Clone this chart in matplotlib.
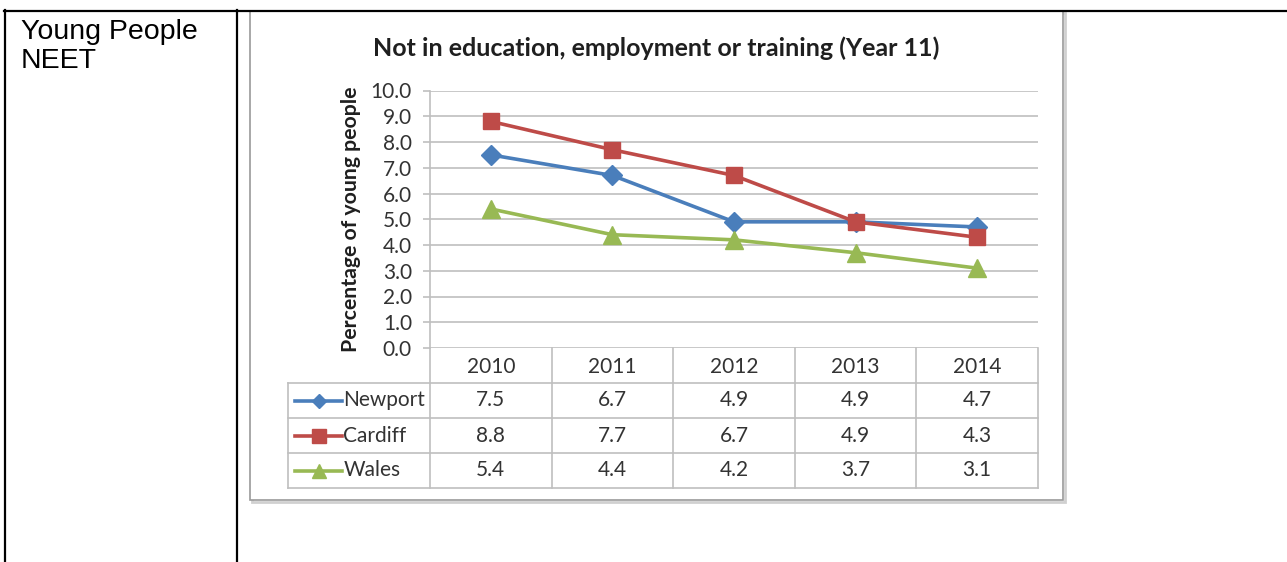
import matplotlib
matplotlib.use("Agg")
import matplotlib.pyplot as plt
from matplotlib.lines import Line2D
from matplotlib.patches import Rectangle

# ---------------- data ----------------
years = ["2010", "2011", "2012", "2013", "2014"]
series_names = ["Newport", "Cardiff", "Wales"]
newport = [7.5, 6.7, 4.9, 4.9, 4.7]
cardiff = [8.8, 7.7, 6.7, 4.9, 4.3]
wales = [5.4, 4.4, 4.2, 3.7, 3.1]
y_ticks = [0, 1, 2, 3, 4, 5, 6, 7, 8, 9, 10]
title = "Not in education, employment or training (Year 11)"
y_label = "Percentage of young people"
row_label = "Young People\nNEET"

colors = ["#4A7EBB", "#BE4B48", "#98B954"]
markers = ["D", "s", "^"]
msizes = [10, 11, 13]
leg_msizes = [7.5, 9.5, 10]
series = [newport, cardiff, wales]

W, H = 1287, 562
fig = plt.figure(figsize=(W / 100, H / 100), dpi=100)
fig.patch.set_facecolor("white")


def fx(px):
    return px / W


def fy(py):
    return 1 - py / H


CHART_FONT = ["Lato", "DejaVu Sans"]
GRID = "#BFBFBF"
TXT = "#333333"
FS = 15

# ---------- document table lines ----------
for (x0, y0, x1, y1) in [(4, 10.5, 1287, 10.5), (5, 10, 5, 562), (237, 10, 237, 562)]:
    fig.add_artist(Line2D([fx(x0), fx(x1)], [fy(y0), fy(y1)], color="black",
                          lw=1.6, transform=fig.transFigure, zorder=-3))
fig.text(fx(21), fy(19), row_label, ha="left", va="top", fontsize=20.5,
         family=["Liberation Sans", "DejaVu Sans"], color="black", linespacing=1.16)

# ---------- chart frame ----------
fig.add_artist(Rectangle((fx(252), fy(502)), fx(1065) - fx(252), fy(13) - fy(502),
                         transform=fig.transFigure, facecolor="none",
                         edgecolor="#D0D0D0", lw=2.0, zorder=-6))
fig.add_artist(Rectangle((fx(250), fy(500)), fx(1063) - fx(250), fy(11) - fy(500),
                         transform=fig.transFigure, facecolor="white",
                         edgecolor="#9A9A9A", lw=1.2, zorder=-5))

fig.text(fx(656), fy(48), title, ha="center", va="center", fontsize=18,
         fontweight="bold", family=CHART_FONT, color="#1F1F1F")
fig.text(fx(351), fy(219), y_label, ha="center", va="center", rotation=90,
         fontsize=15.3, fontweight="bold", family=CHART_FONT, color="#1F1F1F")

# ---------- main plot axes ----------
L, R, T, B = 430, 1038, 90.5, 348
ax = fig.add_axes([fx(L), fy(B), fx(R) - fx(L), fy(T) - fy(B)])
ax.set_facecolor("none")
ax.set_xlim(-0.5, len(years) - 0.5)
ax.set_ylim(y_ticks[0], y_ticks[-1])
ax.set_yticks(y_ticks)
ax.set_yticklabels([f"{v:.1f}" for v in y_ticks], family=CHART_FONT, fontsize=FS, color=TXT)
ax.set_xticks([])
ax.yaxis.grid(True, color=GRID, lw=1.2)
ax.set_axisbelow(True)
for s in ["top", "right", "bottom"]:
    ax.spines[s].set_visible(False)
ax.spines["left"].set_color(GRID)
ax.spines["left"].set_linewidth(1.2)
ax.tick_params(axis="y", length=5, color=GRID, width=1.2, pad=8)
xs = list(range(len(years)))
for vals, c, m, ms in zip(series, colors, markers, msizes):
    ax.plot(xs, vals, color=c, lw=2.6, marker=m, markersize=ms,
            markerfacecolor=c, markeredgecolor=c, clip_on=False, zorder=3)

# ---------- data table axes ----------
TL, TB = 288, 488
step = (R - L) / len(years)
legend_w = (L - TL) / step
tx = fig.add_axes([fx(TL), fy(TB), fx(R) - fx(TL), fy(B) - fy(TB)])
tx.set_xlim(-0.5 - legend_w, len(years) - 0.5)
tx.set_ylim(len(series_names) + 1, 0)
tx.axis("off")
left_edge = -0.5 - legend_w
nrows = len(series_names) + 1
for i in range(len(years) + 1):
    tx.plot([i - 0.5, i - 0.5], [0, nrows], color=GRID, lw=1.2, clip_on=False)
tx.plot([left_edge, left_edge], [1, nrows], color=GRID, lw=1.2, clip_on=False)
for r in range(1, nrows + 1):
    tx.plot([left_edge, len(years) - 0.5], [r, r], color=GRID, lw=1.2, clip_on=False)
for i, yr in enumerate(years):
    tx.text(i, 0.55, yr, ha="center", va="center", fontsize=FS,
            family=CHART_FONT, color=TXT)
for r, (name, vals, c, m, ms) in enumerate(zip(series_names, series, colors, markers, leg_msizes), start=1):
    yc = r + 0.5
    x0 = left_edge + 0.058
    x1 = left_edge + 0.445
    tx.plot([x0, x1], [yc, yc], color=c, lw=2.6, clip_on=False)
    tx.plot([(x0 + x1) / 2], [yc], marker=m, color=c, markersize=ms,
            clip_on=False)
    tx.text(x1 + 0.01, yc, name, ha="left", va="center", fontsize=FS,
            family=CHART_FONT, color=TXT)
    for i, v in enumerate(vals):
        tx.text(i, yc, f"{v:.1f}", ha="center", va="center", fontsize=FS,
                family=CHART_FONT, color=TXT)

fig.savefig("out.png", dpi=100, facecolor="white")
